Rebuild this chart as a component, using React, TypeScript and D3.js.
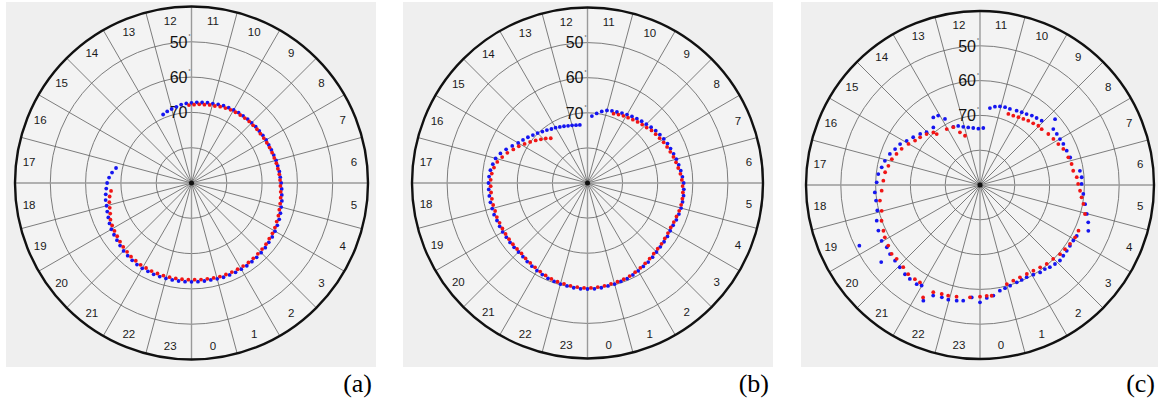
import React from 'react';
import * as d3 from 'd3';

// ---------- data ----------
const HOUR_LABELS = [0, 1, 2, 3, 4, 5, 6, 7, 8, 9, 10, 11, 12, 13, 14, 15, 16, 17, 18, 19, 20, 21, 22, 23];
const RING_ELEVS = [80, 70, 60, 50];
const RING_LABELS = [50, 60, 70];
const PANEL_LABELS = ['(a)', '(b)', '(c)'];

// (a) regular series, 15-minute sampling
const aBlueStart = 17.25;
const aBlueStep = 0.25;
const aBlueElev = [68.2, 67.3, 66.6, 66.1, 65.8, 65.5, 65.2, 65.1, 64.8, 64.5, 64.1, 63.8, 63.6, 63.4, 63.1, 62.8, 62.6, 62.4, 62.2, 62.1, 62.1, 62.0, 62.0, 62.0, 62.0, 62.0, 62.0, 62.0, 62.0, 62.0, 62.0, 61.9, 61.8, 61.8, 61.8, 61.8, 61.8, 61.9, 62.0, 62.1, 62.2, 62.4, 62.5, 62.7, 62.9, 63.1, 63.4, 63.7, 63.9, 64.2, 64.4, 64.6, 64.8, 64.9, 65.1, 65.2, 65.4, 65.5, 65.6, 65.6, 65.7, 65.8, 65.8, 65.9, 65.9, 66.0, 66.0, 66.1, 66.2, 66.3, 66.5, 66.7, 66.8, 67.0, 67.1, 67.3, 67.4, 67.6, 68.0, 68.3, 68.6, 69.0];
const aRedStart = 18.375;
const aRedStep = 0.25;
const aRedElev = [67.1, 66.5, 66.1, 65.8, 65.4, 64.8, 64.5, 64.3, 64.1, 63.8, 63.5, 63.3, 63.0, 62.9, 62.7, 62.7, 62.6, 62.6, 62.6, 62.6, 62.6, 62.6, 62.6, 62.6, 62.5, 62.5, 62.4, 62.3, 62.3, 62.3, 62.3, 62.3, 62.3, 62.4, 62.5, 62.6, 62.7, 62.9, 63.0, 63.2, 63.5, 63.7, 64.0, 64.2, 64.4, 64.6, 64.8, 64.9, 65.0, 65.2, 65.3, 65.5, 65.6, 65.7, 65.8, 65.9, 66.0, 66.0, 66.1, 66.1, 66.2, 66.3, 66.4, 66.5, 66.7, 66.9, 67.2, 67.3, 67.5, 67.6, 67.8, 67.9];

// (b)
const bBlueStart = 11.75;
const bBlueStep = -0.25;
const bBlueElev = [70.9, 70.0, 69.2, 68.6, 68.3, 68.1, 67.8, 67.5, 67.2, 66.9, 66.6, 66.3, 65.9, 65.5, 65.2, 64.9, 64.6, 64.4, 64.1, 63.8, 63.5, 63.2, 62.9, 62.6, 62.5, 62.4, 62.4, 62.4, 62.5, 62.6, 62.8, 62.8, 62.6, 62.5, 62.4, 62.2, 61.9, 61.6, 61.4, 61.1, 60.8, 60.5, 60.4, 60.2, 60.1, 59.9, 59.8, 59.8, 59.8, 59.9, 60.1, 60.2, 60.4, 60.6, 60.9, 61.2, 61.5, 61.8, 62.1, 62.2, 62.2, 62.2, 62.2, 62.1, 62.1, 62.1, 61.9, 61.9, 61.8, 61.8, 61.8, 61.8, 61.9, 62.1, 62.5, 62.9, 63.8, 64.9, 66.1, 67.2, 67.9, 68.6, 69.3, 69.9, 70.5, 71.0, 71.5, 71.8, 72.2, 72.5, 72.8, 73.0, 73.2, 73.3];
const bRedStart = 10.625;
const bRedStep = -0.25;
const bRedElev = [68.9, 68.6, 68.3, 68.1, 67.8, 67.5, 67.2, 66.9, 66.4, 66.1, 65.8, 65.4, 65.1, 64.8, 64.4, 64.1, 63.8, 63.4, 63.1, 62.9, 62.7, 62.6, 62.6, 62.7, 62.9, 63.0, 63.1, 63.0, 62.9, 62.7, 62.6, 62.4, 62.1, 61.8, 61.5, 61.2, 60.9, 60.7, 60.6, 60.5, 60.3, 60.2, 60.1, 60.1, 60.2, 60.3, 60.5, 60.6, 60.8, 61.1, 61.4, 61.7, 62.0, 62.2, 62.5, 62.5, 62.5, 62.5, 62.5, 62.5, 62.5, 62.4, 62.5, 62.4, 62.4, 62.4, 62.4, 62.4, 62.6, 63.0, 63.6, 64.6, 65.6, 66.8, 67.8, 68.9, 69.9, 70.9, 71.8, 72.6, 73.5];

// (c) irregular samples: [hour, elevation]
const cBlue: [number, number][] = [
  [11.51, 67.7], [11.28, 67.1], [11.05, 66.7], [10.81, 66.5], [10.57, 66.5], [10.25, 66.2], [10.01, 65.9],
  [9.78, 65.6], [9.55, 65.1], [9.32, 64.8], [9.08, 64.4], [8.75, 61.3], [8.49, 63.5], [8.24, 63.5],
  [7.99, 63.5], [7.75, 63.3], [7.44, 63.2], [7.13, 62.9], [6.54, 61.0], [6.29, 60.7], [6.04, 60.8],
  [5.67, 60.2], [5.31, 59.3], [4.99, 58.2], [4.73, 57.1], [4.47, 56.2], [4.15, 58.6], [3.95, 58.8],
  [3.73, 58.8], [3.52, 58.7], [3.31, 58.6], [3.11, 58.4], [2.9, 58.7], [2.69, 59.0], [2.51, 59.5],
  [2.3, 59.5], [2.05, 60.0], [1.79, 60.3], [1.58, 60.2], [1.38, 60.1], [1.11, 59.8], [0.91, 59.5],
  [0.71, 59.1], [0.46, 58.0], [0.23, 57.5], [0.0, 56.3], [23.72, 57.6], [23.45, 56.4], [23.24, 56.1],
  [22.97, 55.8], [22.75, 55.9], [22.47, 55.5], [22.26, 53.0], [21.99, 56.6], [21.83, 56.2], [21.55, 56.3],
  [21.33, 56.5], [21.05, 57.0], [20.78, 57.3], [20.5, 57.4], [20.25, 57.8], [19.97, 57.5], [20.53, 54.0],
  [19.78, 51.2], [19.61, 58.0], [19.27, 58.6], [18.93, 59.6], [18.57, 59.8], [18.27, 59.7], [17.9, 60.3],
  [17.59, 60.6], [17.32, 61.3], [17.05, 61.8], [16.73, 62.6], [16.47, 63.5], [16.19, 64.2], [15.93, 65.4],
  [15.63, 66.4], [15.3, 67.4], [15.02, 68.4], [14.6, 68.7], [14.31, 66.4], [14.07, 66.7], [13.86, 68.5],
  [13.64, 71.6], [13.35, 71.9], [13.07, 72.6], [12.77, 73.1], [12.45, 73.5], [12.11, 73.8], [11.78, 73.6],
];
const cRed: [number, number][] = [
  [10.55, 68.0], [10.29, 67.9], [10.03, 67.6], [9.78, 67.3], [9.54, 66.9], [9.28, 66.6], [9.03, 66.1],
  [8.81, 66.1], [8.45, 65.5], [8.14, 65.1], [7.84, 64.6], [7.56, 63.9], [7.16, 63.4], [6.86, 63.0],
  [6.58, 62.9], [6.31, 62.1], [6.04, 61.8], [5.78, 61.2], [5.54, 60.6], [5.31, 59.8], [4.97, 58.7],
  [4.34, 58.8], [4.08, 58.8], [3.79, 59.1], [3.53, 59.4], [3.28, 59.6], [2.98, 60.1], [2.68, 60.3],
  [2.41, 60.7], [2.13, 61.0], [1.85, 61.1], [1.56, 61.1], [1.28, 60.9], [1.01, 60.5], [0.4, 58.0],
  [0.23, 58.1], [0.0, 57.9], [23.66, 57.6], [23.21, 57.2], [22.93, 56.9], [22.71, 56.8], [22.43, 56.4],
  [22.21, 53.8], [21.89, 57.1], [21.69, 57.1], [21.41, 57.1], [21.13, 57.7], [20.77, 58.0], [20.53, 57.8],
  [20.23, 58.4], [19.92, 58.8], [19.69, 59.3], [19.33, 59.9], [18.98, 60.8], [18.59, 60.9], [18.22, 61.7],
  [17.83, 62.2], [17.49, 62.5], [17.21, 63.1], [16.91, 63.6], [16.64, 64.4], [16.35, 65.2], [16.01, 66.3],
  [15.71, 67.4], [15.43, 68.0], [15.09, 68.8], [14.77, 69.8], [14.69, 70.8], [14.05, 71.3], [13.65, 71.7],
  [13.39, 73.8], [13.13, 75.2],
];

// ---------- layout ----------
const W = 1158;
const H = 404;
const panels = [
  { cx: 191.5, cy: 183, R: 176.5, bg: [6, 2, 370, 365], lx: 372 },
  { cx: 587.5, cy: 183, R: 175.5, bg: [403, 2, 370, 365], lx: 769 },
  { cx: 980, cy: 185, R: 174, bg: [801, 2, 357, 365], lx: 1155 },
];

const angle = d3.scaleLinear().domain([0, 24]).range([Math.PI, -Math.PI]);
const norm = (h: number) => ((h % 24) + 24) % 24;

function regular(start: number, step: number, vals: number[]): [number, number][] {
  return vals.map((v, i) => [norm(start + step * i), v]);
}

const panelData: { blue: [number, number][]; red: [number, number][] }[] = [
  { blue: regular(aBlueStart, aBlueStep, aBlueElev), red: regular(aRedStart, aRedStep, aRedElev) },
  { blue: regular(bBlueStart, bBlueStep, bBlueElev), red: regular(bRedStart, bRedStep, bRedElev) },
  { blue: cBlue, red: cRed },
];

function Panel({ p, d, label }: any) {
  const r = d3.scaleLinear().domain([90, 40]).range([0, p.R]);
  const pt = (h: number, el: number) => d3.pointRadial(angle(norm(h)), r(el));
  const spokes = d3.range(24);
  return (
    <g>
      <rect x={p.bg[0]} y={p.bg[1]} width={p.bg[2]} height={p.bg[3]} fill="#efefef" />
      <g transform={`translate(${p.cx},${p.cy})`}>
        <circle r={p.R} fill="#f3f3f3" />
        {RING_ELEVS.map((e) => (
          <circle key={e} r={r(e)} fill="none" stroke="#6e6e6e" strokeWidth={0.9} />
        ))}
        {spokes.map((k) => {
          const a = (k * Math.PI) / 12;
          const axis = k % 6 === 0;
          const [x, y] = d3.pointRadial(a, p.R);
          return (
            <line key={k} x1={0} y1={0} x2={x} y2={y}
              stroke={axis ? '#9a9a9a' : '#5e5e5e'} strokeWidth={axis ? 1.4 : 0.8} />
          );
        })}
        <circle r={2.5} fill="#111" />
        {HOUR_LABELS.map((h) => {
          const [x, y] = d3.pointRadial(angle(h + 0.5), r(43.6));
          return (
            <text key={h} x={x} y={y} dy="0.36em" textAnchor="middle"
              fontFamily="'Liberation Sans', Arial, sans-serif" fontSize={11.5} fill="#1a1a1a">{h}</text>
          );
        })}
        {RING_LABELS.map((e) => (
          <g key={e}>
            <text x={-4} y={-r(e)} dy="0.36em" textAnchor="end"
              fontFamily="'Liberation Sans', Arial, sans-serif" fontSize={16} fill="#111">{e}</text>
            <text x={-3} y={-r(e) - 4} textAnchor="start"
              fontFamily="'Liberation Sans', Arial, sans-serif" fontSize={5} fill="#111">°</text>
          </g>
        ))}
        {d.blue.map(([h, el]: [number, number], i: number) => {
          const [x, y] = pt(h, el);
          return <circle key={'b' + i} cx={x} cy={y} r={1.9} fill="#1515f0" />;
        })}
        {d.red.map(([h, el]: [number, number], i: number) => {
          const [x, y] = pt(h, el);
          return <circle key={'r' + i} cx={x} cy={y} r={1.9} fill="#f01515" />;
        })}
        <circle r={p.R} fill="none" stroke="#111" strokeWidth={2.4} />
      </g>
      <text x={p.lx} y={392} textAnchor="end" fontFamily="'Liberation Serif', 'Times New Roman', serif"
        fontSize={26} fill="#000">{label}</text>
    </g>
  );
}

export default function App() {
  return (
    <svg width={W} height={H} style={{ position: 'absolute', left: 0, top: 0, background: '#fff' }}>
      {panels.map((p, i) => (
        <Panel key={i} p={p} d={panelData[i]} label={PANEL_LABELS[i]} />
      ))}
    </svg>
  );
}
